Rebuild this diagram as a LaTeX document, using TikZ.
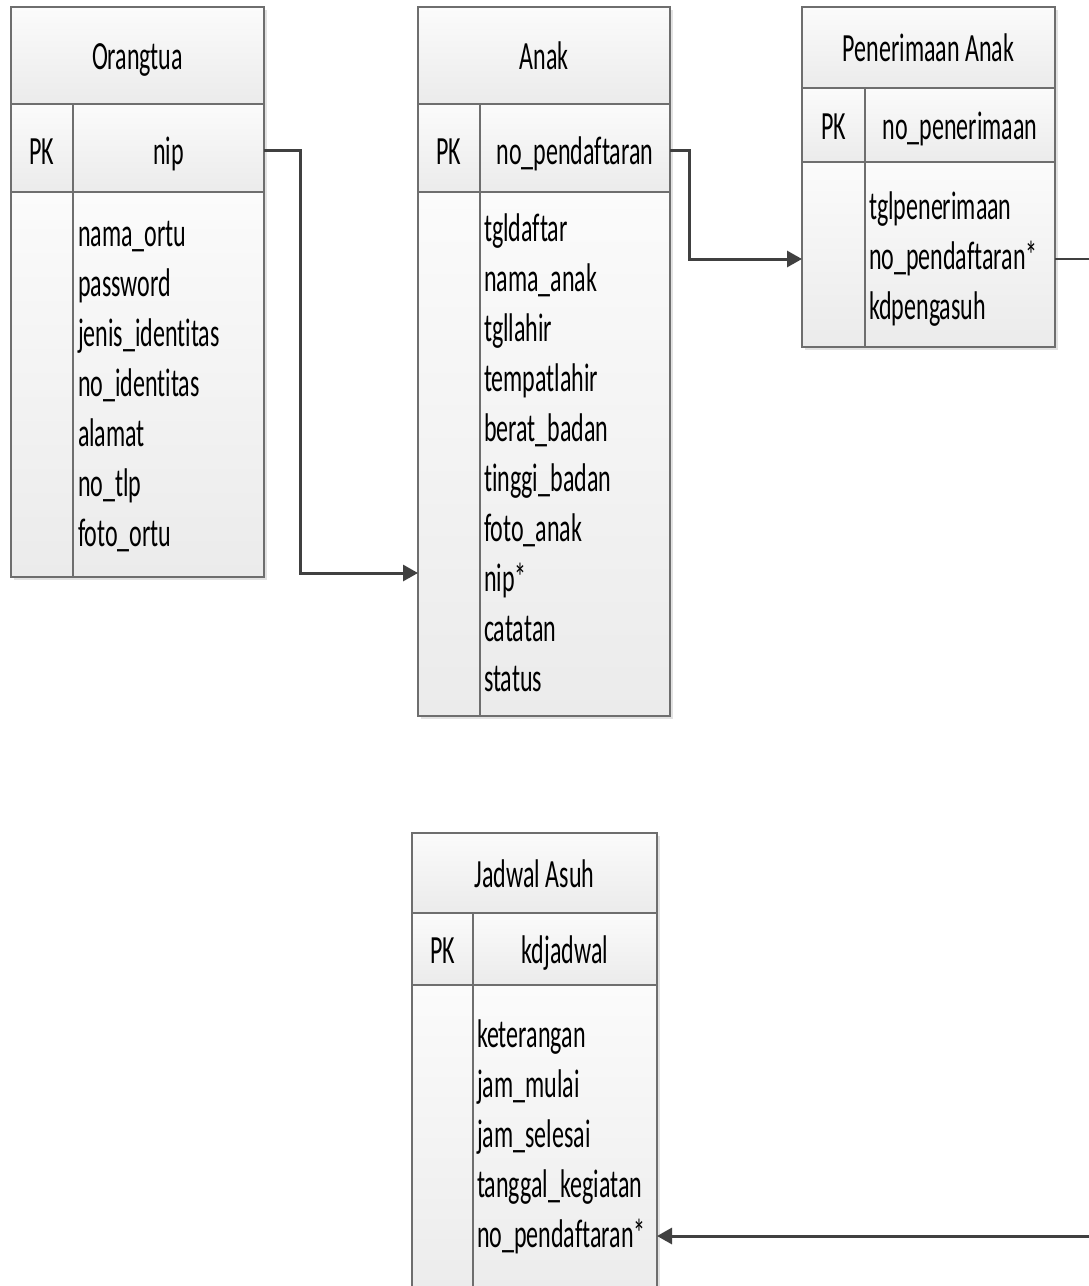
\documentclass[tikz,border=0pt]{standalone}
\usepackage{fontspec}
\usetikzlibrary{arrows.meta}
\newfontfamily\erfont[FakeStretch=0.6,Ligatures=NoCommon]{Carlito}
\definecolor{boxc}{HTML}{6E6E6E}
\definecolor{connc}{HTML}{404040}
\definecolor{celltop}{HTML}{FBFBFB}
\definecolor{cellbot}{HTML}{EBEBEB}
\definecolor{shadowc}{HTML}{E2E2E2}
\tikzset{
  cell/.style={draw=boxc, line width=1.3pt, top color=celltop, bottom color=cellbot,
    anchor=north west, inner sep=0pt, outer sep=0pt},
  txt/.style={inner sep=0pt, outer sep=0pt, font=\erfont\fontsize{40}{50}\selectfont, text=black},
  ttl/.style={txt, anchor=base},
  attr/.style={txt, anchor=base west},
  conn/.style={draw=connc, line width=3pt},
  fk/.style={conn, -{Triangle[length=15pt,width=16pt]}},
  thinconn/.style={draw=connc, line width=1.3pt}
}
% name, xleft, xdivider, xright, ytop, yheader, ypk, ybottom
\newcommand\ertab[8]{%
  \pgfmathsetmacro\wA{#4-#2}\pgfmathsetmacro\wP{#3-#2}\pgfmathsetmacro\wK{#4-#3}%
  \pgfmathsetmacro\hH{#6-#5}\pgfmathsetmacro\hP{#7-#6}\pgfmathsetmacro\hB{#8-#7}%
  \fill[shadowc] (#2+3,#5+3) rectangle (#4+3,#8+3);
  \node[cell, minimum width=\wA pt, minimum height=\hH pt] (#1-h) at (#2,#5) {};
  \node[cell, minimum width=\wP pt, minimum height=\hP pt] (#1-pk) at (#2,#6) {};
  \node[cell, minimum width=\wK pt, minimum height=\hP pt] (#1-key) at (#3,#6) {};
  \node[cell, minimum width=\wP pt, minimum height=\hB pt] (#1-bl) at (#2,#7) {};
  \node[cell, minimum width=\wK pt, minimum height=\hB pt] (#1-br) at (#3,#7) {};
}
\begin{document}
\begin{tikzpicture}[x=1pt,y=-1pt]
\useasboundingbox (0,0) rectangle (1089,1286);
\clip (0,0) rectangle (1089,1286);
\fill[white] (0,0) rectangle (1089,1286);

% ---------- Orangtua ----------
\ertab{ortu}{11}{73}{264}{7}{104}{192}{577}
\node[ttl] (ortu-t) at (137.5,69) {Orangtua};
\node[ttl] (ortu-pkt) at (42,164) {PK};
\node[ttl] (ortu-kt) at (168.5,164) {nip};
\node[attr] (o1) at (78,246) {nama\_ortu};
\node[attr] (o2) at (78,296) {password};
\node[attr] (o3) at (78,346) {jenis\_identitas};
\node[attr] (o4) at (78,396) {no\_identitas};
\node[attr] (o5) at (78,446) {alamat};
\node[attr] (o6) at (78,496) {no\_tlp};
\node[attr] (o7) at (78,546) {foto\_ortu};

% ---------- Anak ----------
\ertab{anak}{418}{480}{670}{7}{104}{192}{716}
\node[ttl] (anak-t) at (544,69) {Anak};
\node[ttl] (anak-pkt) at (449,164) {PK};
\node[ttl] (anak-kt) at (575,164) {no\_pendaftaran};
\node[attr] (a1) at (484,241) {tgldaftar};
\node[attr] (a2) at (484,291) {nama\_anak};
\node[attr] (a3) at (484,341) {tgllahir};
\node[attr] (a4) at (484,391) {tempatlahir};
\node[attr] (a5) at (484,441) {berat\_badan};
\node[attr] (a6) at (484,491) {tinggi\_badan};
\node[attr] (a7) at (484,541) {foto\_anak};
\node[attr] (a8) at (484,591) {nip*};
\node[attr] (a9) at (484,641) {catatan};
\node[attr] (a10) at (484,691) {status};

% ---------- Penerimaan Anak ----------
\ertab{pen}{802}{865}{1055}{7}{88}{162}{347}
\node[ttl] (pen-t) at (928.5,61) {Penerimaan Anak};
\node[ttl] (pen-pkt) at (833.5,139) {PK};
\node[ttl] (pen-kt) at (960,139) {no\_penerimaan};
\node[attr] (p1) at (869,219) {tglpenerimaan};
\node[attr] (p2) at (869,269) {no\_pendaftaran*};
\node[attr] (p3) at (869,319) {kdpengasuh};

% ---------- Jadwal Asuh ----------
\ertab{jad}{412}{473}{657}{833}{913}{985}{1310}
\node[ttl] (jad-t) at (534.5,887) {Jadwal Asuh};
\node[ttl] (jad-pkt) at (443,963) {PK};
\node[ttl] (jad-kt) at (565,963) {kdjadwal};
\node[attr] (j1) at (477,1047) {keterangan};
\node[attr] (j2) at (477,1097) {jam\_mulai};
\node[attr] (j3) at (477,1147) {jam\_selesai};
\node[attr] (j4) at (477,1197) {tanggal\_kegiatan};
\node[attr] (j5) at (477,1247) {no\_pendaftaran*};

% ---------- connectors ----------
\draw[fk] (ortu-key.east |- 0,150) -- (300,150) |- (anak-bl.west |- 0,573);
\draw[fk] (anak-key.east |- 0,150) -- (689,150) |- (pen-bl.west |- 0,259);
\coordinate (offR) at (1100,259);
\coordinate (offB) at (1100,1236);
\draw[thinconn] (pen-br.east |- 0,259) -- (offR);
\draw[fk] (offB) -- (jad-br.east |- 0,1236);
\end{tikzpicture}
\end{document}
